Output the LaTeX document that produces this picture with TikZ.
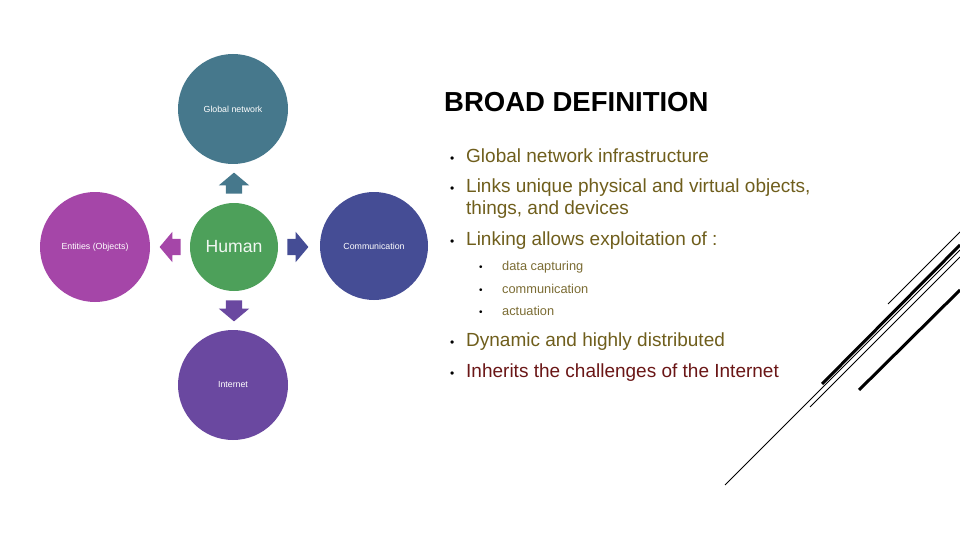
\documentclass[tikz,border=0pt]{standalone}
\usepackage{fontspec}
\setmainfont{Liberation Sans}
\usetikzlibrary{shapes.arrows,positioning,calc}
\definecolor{bdTeal}{HTML}{46788C}
\definecolor{bdMagenta}{HTML}{A546A8}
\definecolor{bdGreen}{HTML}{4DA05A}
\definecolor{bdNavy}{HTML}{454D95}
\definecolor{bdPurple}{HTML}{6A48A0}
\definecolor{bdOlive}{HTML}{6F5E1C}
\definecolor{bdOliveLt}{HTML}{7B6C34}
\definecolor{bdMaroon}{HTML}{6A1616}
\tikzset{
  disc/.style={circle, inner sep=0pt, minimum size=110pt, text=white, font=\fontsize{8.8}{10}\selectfont},
  blk/.style={single arrow, draw=none, anchor=tail, inner xsep=0pt, inner ysep=8pt, minimum height=21pt, single arrow head extend=7pt, single arrow tip angle=100},
  ttl/.style={anchor=base west, inner sep=0pt, font=\fontsize{27.5}{30}\selectfont\bfseries},
  itm/.style={anchor=base west, inner sep=0pt, text=bdOlive, font=\fontsize{19}{21}\selectfont, align=left},
  subitm/.style={itm, text=bdOliveLt, font=\fontsize{12.8}{14}\selectfont},
  bul/.style={anchor=base west, inner sep=0pt, font=\fontsize{12}{12}\selectfont},
  thinln/.style={line width=0.8pt},
  thickln/.style={line width=3pt},
}
\begin{document}
\begin{tikzpicture}[x=1pt, y=-1pt]
  \useasboundingbox (0,0) rectangle (960,540);
  % circles
  \node[disc, fill=bdTeal] (glob) at (233,109) {Global network};
  \node[disc, fill=bdGreen, minimum size=88pt, text=white!92!bdGreen, font=\fontsize{17.6}{20}\selectfont] (hum) at (234,247) {Human};
  \node[disc, fill=bdMagenta] (ent) at (95,247) {Entities (Objects)};
  \node[disc, fill=bdNavy, minimum size=108pt] (comm) at (374,246) {Communication};
  \node[disc, fill=bdPurple] (inet) at (233,385) {Internet};
  % block arrows
  \node[blk, fill=bdTeal, rotate=90] (aup) at ([yshift=9pt]hum.north) {};
  \node[blk, fill=bdMagenta, rotate=180] (alft) at ([xshift=-9pt]hum.west) {};
  \node[blk, fill=bdNavy] (argt) at ([xshift=9pt]hum.east) {};
  \node[blk, fill=bdPurple, rotate=-90] (adwn) at ([yshift=-9pt]hum.south) {};
  % text
  \node[ttl] (title) at (444,112) {BROAD DEFINITION};
  \node[itm] (i1) at (466,163) {Global network infrastructure};
  \node[itm] (i2) at (466,214) {Links unique physical and virtual objects,\\things, and devices};
  \node[itm] (i3) at (466,245) {Linking allows exploitation of :};
  \node[subitm] (s1) at (502,270) {data capturing};
  \node[subitm] (s2) at (502,293) {communication};
  \node[subitm] (s3) at (502,315) {actuation};
  \node[itm] (i4) at (466,346) {Dynamic and highly distributed};
  \node[itm, text=bdMaroon] (i5) at (466,377) {Inherits the challenges of the Internet};
  \foreach \y in {163,193,245,346,377}
    \node[bul] at (450,\y) {\textbullet};
  \foreach \y in {270,293,315}
    \node[bul, font=\fontsize{10}{10}\selectfont] at (479,\y) {\textbullet};
  % corner strokes
  \draw[thinln] (888,304) -- (960,232);
  \draw[thickln] (822,384) -- (960,245);
  \draw[thinln] (725,485) -- (960,250);
  \draw[thinln] (810,407) -- (960,257);
  \draw[thickln] (859,390) -- (960,290);
\end{tikzpicture}
\end{document}
